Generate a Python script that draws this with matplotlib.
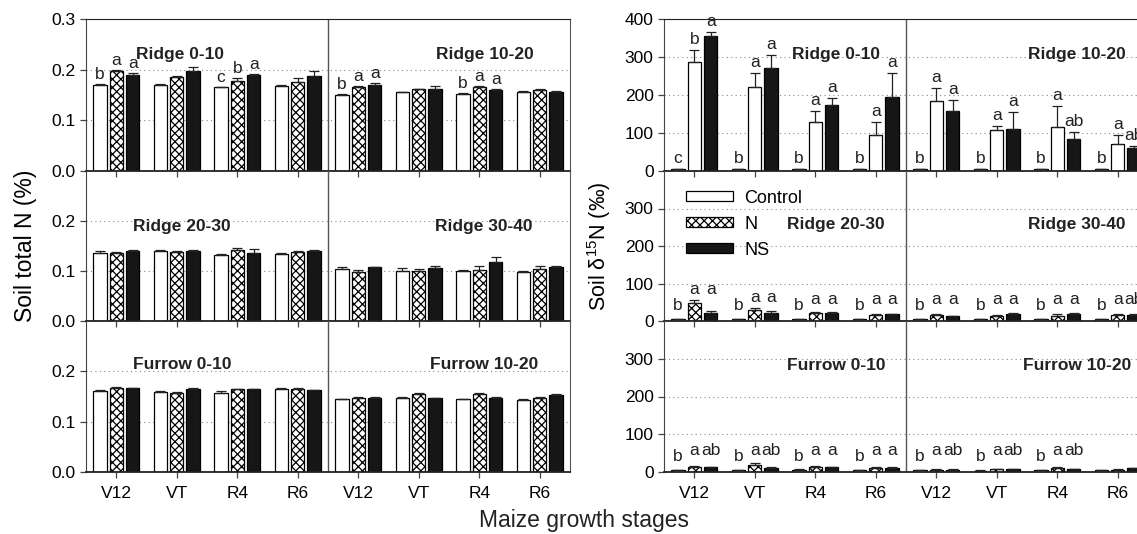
import matplotlib
matplotlib.use('Agg')
import matplotlib.pyplot as plt
import numpy as np

plt.rcParams['font.family'] = ['Liberation Sans', 'DejaVu Sans']
plt.rcParams['mathtext.fontset'] = 'custom'
plt.rcParams['mathtext.rm'] = 'Liberation Sans'
plt.rcParams['mathtext.default'] = 'regular'
plt.rcParams['hatch.linewidth'] = 0.9

stages = ['V12', 'VT', 'R4', 'R6']
treatments = ['Control', 'N', 'NS']

# ---------------- Soil total N (%) ----------------
tn_titles = [['Ridge 0-10', 'Ridge 10-20'], ['Ridge 20-30', 'Ridge 30-40'], ['Furrow 0-10', 'Furrow 10-20']]
tn_control = [[0.169, 0.169, 0.165, 0.168, 0.150, 0.155, 0.151, 0.156],
              [0.137, 0.141, 0.133, 0.135, 0.104, 0.101, 0.100, 0.098],
              [0.161, 0.159, 0.157, 0.165, 0.145, 0.148, 0.145, 0.144]]
tn_n = [[0.197, 0.185, 0.178, 0.176, 0.165, 0.161, 0.165, 0.160],
        [0.137, 0.139, 0.143, 0.138, 0.099, 0.101, 0.103, 0.105],
        [0.167, 0.156, 0.164, 0.164, 0.148, 0.155, 0.155, 0.148]]
tn_ns = [[0.190, 0.197, 0.190, 0.188, 0.170, 0.162, 0.159, 0.156],
         [0.141, 0.141, 0.136, 0.140, 0.108, 0.107, 0.119, 0.108],
         [0.166, 0.165, 0.164, 0.162, 0.148, 0.147, 0.148, 0.153]]
tn_control_err = [[0.002, 0.002, 0.001, 0.002, 0.002, 0.001, 0.002, 0.002],
                  [0.004, 0.001, 0.002, 0.001, 0.004, 0.005, 0.003, 0.002],
                  [0.001, 0.002, 0.003, 0.002, 0.001, 0.002, 0.001, 0.001]]
tn_n_err = [[0.002, 0.002, 0.005, 0.007, 0.003, 0.001, 0.002, 0.002],
            [0.002, 0.002, 0.003, 0.003, 0.004, 0.003, 0.007, 0.006],
            [0.002, 0.002, 0.001, 0.002, 0.001, 0.002, 0.002, 0.001]]
tn_ns_err = [[0.003, 0.008, 0.002, 0.010, 0.003, 0.006, 0.002, 0.001],
             [0.001, 0.001, 0.009, 0.002, 0.001, 0.003, 0.009, 0.003],
             [0.001, 0.001, 0.001, 0.001, 0.001, 0.001, 0.001, 0.001]]
tn_control_let = [['b', '', 'c', '', 'b', '', 'b', ''], [''] * 8, [''] * 8]
tn_n_let = [['a', '', 'b', '', 'a', '', 'a', ''], [''] * 8, [''] * 8]
tn_ns_let = [['a', '', 'a', '', 'a', '', 'a', ''], [''] * 8, [''] * 8]

# ---------------- Soil d15N (permil) ----------------
dn_titles = tn_titles
dn_control = [[5, 5, 5, 5, 5, 5, 5, 5],
              [5, 5, 5, 5, 5, 5, 5, 5],
              [4, 5, 6, 4, 4, 3, 4, 4]]
dn_n = [[288, 221, 128, 95, 183, 108, 116, 71],
        [49, 30, 21, 16, 17, 13, 13, 16],
        [13, 18, 12, 11, 6, 7, 10, 6]]
dn_ns = [[356, 272, 174, 195, 159, 111, 84, 61],
         [22, 21, 22, 18, 13, 19, 19, 16],
         [12, 11, 12, 11, 6, 8, 8, 10]]
dn_control_err = [[1] * 8, [1] * 8, [1, 1, 1, 1, 1, 2, 1, 1]]
dn_n_err = [[31, 36, 30, 35, 36, 11, 56, 23],
            [6, 6, 3, 3, 2, 2, 5, 3],
            [2, 6, 3, 1, 1, 1, 2, 1]]
dn_ns_err = [[11, 32, 18, 62, 29, 45, 18, 5],
             [4, 5, 3, 2, 1, 2, 3, 3],
             [1, 1, 1, 1, 1, 1, 1, 1]]
dn_control_let = [['c', 'b', 'b', 'b', 'b', 'b', 'b', 'b'],
                  ['b'] * 8,
                  ['b', 'b', 'b', 'b', 'b', 'b', 'b', '']]
dn_n_let = [['b', 'a', 'a', 'a', 'a', 'a', 'a', 'a'],
            ['a'] * 8,
            ['a', 'a', 'a', 'a', 'a', 'a', 'a', '']]
dn_ns_let = [['a', 'a', 'a', 'a', 'a', 'a', 'ab', 'ab'],
             ['a', 'a', 'a', 'a', 'a', 'a', 'a', 'ab'],
             ['ab', 'ab', 'a', 'a', 'ab', 'ab', 'ab', '']]

# ---------------- figure ----------------
W, H = 1137, 534
fig = plt.figure(figsize=(W / 100, H / 100), dpi=100)

row_px = [(19, 171), (171, 321), (321, 472)]
panel_px = [(86, 570), (664, 1148)]

BW = 0.223
OFF = 0.272
x = np.arange(8)
styles = [dict(color='white', edgecolor='black', hatch=None),
          dict(color='white', edgecolor='black', hatch='xxxx'),
          dict(color='#161616', edgecolor='black', hatch=None)]


def draw_panel(p, vals, errs, lets, titles, ymax, yticks_top, yticks_other, fmt, pad,
               title_pos, no_hatch_row0=False, common_rows=(), floor_n=0.0, floor_c=0.0):
    axes = []
    for r in range(3):
        top, bot = row_px[r]
        l, rr = panel_px[p]
        ax = fig.add_axes([l / W, 1 - bot / H, (rr - l) / W, (bot - top) / H])
        ax.set_xlim(-0.5, 7.5)
        ax.set_ylim(0, ymax)
        tops = [np.array(vals[t][r]) + np.array(errs[t][r]) for t in range(3)]
        for t in range(3):
            v = vals[t][r]
            e = errs[t][r]
            st = dict(styles[t])
            if no_hatch_row0 and r == 0:
                st['hatch'] = None
            ax.bar(x + (t - 1) * OFF, v, BW, color=st['color'], edgecolor=st['edgecolor'],
                   hatch=st['hatch'], linewidth=0.9, zorder=3, label=treatments[t])
            ax.errorbar(x + (t - 1) * OFF, v, yerr=[np.zeros(8), e], fmt='none',
                        ecolor='#222222', elinewidth=0.9, capsize=3.5, capthick=0.9, zorder=4)
            for i in range(8):
                if not lets[t][r][i]:
                    continue
                if r in common_rows:
                    if t == 0:
                        ly = max(tops[0][i], floor_c) + pad
                    else:
                        ly = max(tops[1][i], tops[2][i], floor_n) + pad
                else:
                    ly = tops[t][i] + pad
                ax.text(x[i] + (t - 1) * OFF, ly, lets[t][r][i],
                        ha='center', va='bottom', fontsize=12.5, color='#222222', zorder=5)
        ax.axvline(3.5, color='#555555', lw=1.0, zorder=2)
        yt = yticks_top if r == 0 else yticks_other
        ax.set_yticks(yt)
        ax.set_yticklabels([fmt(v) for v in yt])
        ax.yaxis.grid(True, linestyle=(0, (1, 3)), color='#888888', linewidth=0.8, zorder=0)
        ax.set_axisbelow(True)
        ax.set_xticks(x)
        if r == 2:
            ax.set_xticklabels(stages * 2, fontsize=12.5)
        else:
            ax.set_xticklabels([])
        ax.tick_params(axis='y', labelsize=12.5, direction='out', length=4, color='#444444', width=0.9)
        ax.tick_params(axis='x', direction='out', length=4, color='#444444', width=0.9, pad=6)
        ax.spines['top'].set_visible(r == 0)
        ax.spines['top'].set_color('#222222')
        ax.spines['right'].set_color('#555555')
        ax.spines['left'].set_color('#444444')
        ax.spines['bottom'].set_color('#222222')
        ax.spines['bottom'].set_linewidth(1.3)
        ax.spines['bottom'].set_zorder(6)
        for k in range(2):
            tx, ty = title_pos[r][k]
            ax.text(tx, ty, titles[r][k], ha='center', va='center', fontsize=12.5,
                    fontweight='bold', color='#222222', zorder=6)
        ax.patch.set_alpha(0)
        axes.append(ax)
    return axes


tn_title_pos = [[(1.06, 0.229), (6.1, 0.229)], [(1.09, 0.188), (6.08, 0.188)], [(1.09, 0.213), (6.08, 0.213)]]
dn_title_pos = [[(2.34, 307), (6.33, 307)], [(2.34, 256), (6.33, 256)], [(2.34, 281), (6.33, 281)]]

left_axes = draw_panel(0, [tn_control, tn_n, tn_ns], [tn_control_err, tn_n_err, tn_ns_err],
                       [tn_control_let, tn_n_let, tn_ns_let], tn_titles, 0.3,
                       [0.0, 0.1, 0.2, 0.3], [0.0, 0.1, 0.2], lambda v: f'{v:.1f}', 0.004, tn_title_pos)
right_axes = draw_panel(1, [dn_control, dn_n, dn_ns], [dn_control_err, dn_n_err, dn_ns_err],
                        [dn_control_let, dn_n_let, dn_ns_let], dn_titles, 400,
                        [0, 100, 200, 300, 400], [0, 100, 200, 300], lambda v: f'{int(v)}', 8, dn_title_pos,
                        no_hatch_row0=True, common_rows=(1, 2), floor_n=30, floor_c=12)

left_axes[1].set_ylabel('Soil total N (%)', fontsize=16.5, labelpad=10)
right_axes[1].set_ylabel('Soil δ$^{15}$N (‰)', fontsize=15.5, labelpad=8)

handles, labels = right_axes[1].get_legend_handles_labels()
right_axes[1].legend(handles[:3], labels[:3], loc='upper left', bbox_to_anchor=(0.02, 0.96), frameon=False,
                     fontsize=13, handlelength=2.6, handleheight=0.5, labelspacing=0.5, handletextpad=0.6,
                     borderaxespad=0.3)

fig.text(0.514, 0.004, 'Maize growth stages', ha='center', va='bottom', fontsize=16.5, color='#222222')

fig.savefig('out.png', dpi=100)
